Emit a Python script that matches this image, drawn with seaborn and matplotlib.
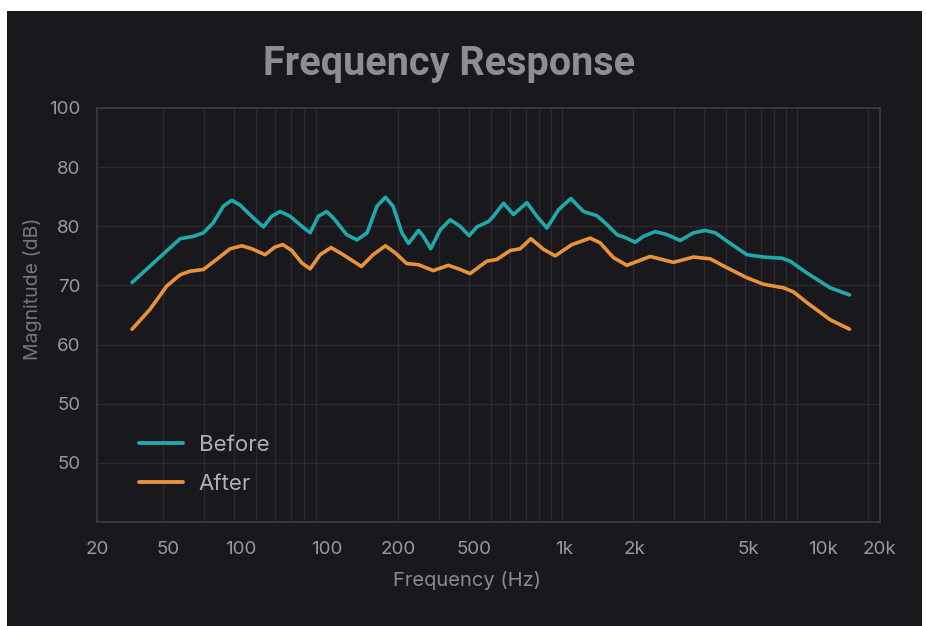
import numpy as np
import pandas as pd
import matplotlib
matplotlib.use("Agg")
import matplotlib.pyplot as plt
import seaborn as sns
from matplotlib.ticker import FixedLocator, LogLocator, NullFormatter
from matplotlib.patches import Rectangle

# ---------------- data ----------------
before_freq = [14.8, 23.7, 27.0, 29.8, 32.8, 36.2, 39.3, 42.6, 48.6, 53.6, 58.2, 63.1, 69.6,
               78.1, 84.7, 91.8, 99.7, 108, 121, 134, 148, 163, 177, 191, 208, 222, 245, 257,
               276, 303, 334, 368, 402, 434, 486, 510, 563, 621, 708, 780, 861, 965, 1089,
               1232, 1405, 1550, 1709, 1854, 2045, 2218, 2487, 2790, 3178, 3621, 4060, 4477,
               5022, 6109, 7190, 8609, 9338, 11000, 13810, 16690]
before_db = [70.5, 77.9, 78.3, 78.9, 80.6, 83.4, 84.4, 83.6, 81.4, 79.9, 81.7, 82.5, 81.7,
             80.0, 78.9, 81.7, 82.5, 81.1, 78.6, 77.7, 78.9, 83.4, 84.9, 83.4, 78.9, 77.1, 79.3,
             78.3, 76.2, 79.4, 81.1, 80.0, 78.4, 79.9, 80.8, 81.7, 83.9, 82.0, 84.0, 81.7, 79.7,
             82.8, 84.7, 82.5, 81.8, 80.3, 78.6, 78.1, 77.3, 78.3, 79.1, 78.6, 77.6, 78.9, 79.3,
             78.9, 77.5, 75.2, 74.8, 74.6, 74.1, 72.1, 69.6, 68.4]

after_freq = [14.8, 17.6, 20.8, 23.7, 26.1, 29.8, 33.9, 38.7, 43.4, 47.8, 54.5, 60.1, 64.8,
              70.8, 78.1, 84.7, 93.4, 104, 117, 140, 157, 177, 195, 218, 245, 283, 328, 368,
              406, 478, 528, 601, 663, 736, 833, 934, 1100, 1316, 1451, 1653, 1885, 2369, 2976,
              3621, 4264, 5022, 6109, 7190, 8745, 9645, 11000, 13810, 16690]
after_db = [62.6, 65.9, 69.9, 71.8, 72.4, 72.7, 74.4, 76.2, 76.7, 76.2, 75.2, 76.5, 76.9,
            75.9, 73.8, 72.8, 75.2, 76.4, 75.2, 73.2, 75.2, 76.7, 75.5, 73.7, 73.5, 72.5, 73.4,
            72.7, 72.0, 74.1, 74.4, 75.9, 76.2, 77.9, 76.1, 75.0, 76.9, 78.0, 77.2, 74.7, 73.4,
            74.9, 73.9, 74.8, 74.5, 73.0, 71.3, 70.2, 69.6, 68.9, 67.1, 64.2, 62.6]

series_names = ["Before", "After"]
y_tick_values = [100, 90, 80, 70, 60, 50, 40]
y_tick_labels = ["100", "80", "80", "70", "60", "50", "50"]
x_tick_labels = ["20", "50", "100", "100", "200", "500", "1k", "2k", "5k", "10k", "20k"]

# ---------------- layout / style ----------------
x_tick_positions = [10.5, 21.05, 43.05, 100, 200.6, 422, 1020, 2025, 6187, 12900, 22340]

BG = "#19181d"
TEAL = "#1fa9a9"
ORANGE = "#e8923c"

df = pd.concat([
    pd.DataFrame({"Frequency": before_freq, "Magnitude": before_db, "Series": series_names[0]}),
    pd.DataFrame({"Frequency": after_freq, "Magnitude": after_db, "Series": series_names[1]}),
], ignore_index=True)

sns.set_theme(style="dark")
plt.rcParams["font.family"] = ["Inter", "DejaVu Sans"]

fig = plt.figure(figsize=(9.26, 6.26), dpi=100, facecolor="white")
fig.patches.append(Rectangle((7 / 926, 0), 915 / 926, 1 - 11 / 626,
                             transform=fig.transFigure, facecolor=BG, edgecolor="none", zorder=-10))
ax = fig.add_axes([97 / 926, 1 - 522 / 626, (880 - 97) / 926, (522 - 108) / 626])
ax.set_facecolor(BG)

sns.lineplot(data=df, x="Frequency", y="Magnitude", hue="Series",
             palette={"Before": TEAL, "After": ORANGE}, linewidth=2.6,
             sort=True, estimator=None, ax=ax)
for ln in ax.get_lines():
    ln.set_solid_joinstyle("round")
    ln.set_solid_capstyle("round")

ax.set_xscale("log")
ax.set_xlim(10.5, 22500)
ax.set_ylim(30, 100)

ax.xaxis.set_major_locator(FixedLocator(x_tick_positions))
ax.set_xticklabels(x_tick_labels)
ax.xaxis.set_minor_locator(LogLocator(base=10, subs=np.arange(1, 10)))
ax.xaxis.set_minor_formatter(NullFormatter())
ax.set_yticks(y_tick_values)
ax.set_yticklabels(y_tick_labels)

ax.grid(False)
ax.grid(True, which="minor", axis="x", color="#2b2a30", linewidth=1)
ax.grid(True, which="major", axis="y", color="#2b2a30", linewidth=1)
ax.tick_params(which="both", length=0)
ax.tick_params(axis="x", pad=14, labelsize=13.5, labelcolor="#9a9a9c")
ax.tick_params(axis="y", pad=12, labelsize=13.5, labelcolor="#9a9a9c")

for s in ax.spines.values():
    s.set_visible(True)
    s.set_color("#3e3d43")
    s.set_linewidth(1.2)

ax.set_xlabel("Frequency (Hz)", fontsize=14.5, color="#8a8a8c")
ax.xaxis.set_label_coords((467 - 97) / (880 - 97), -(581 - 522) / (522 - 108), transform=ax.transAxes)
ax.xaxis.label.set_va("center")
ax.set_ylabel("Magnitude (dB)", fontsize=14, color="#77777a")
ax.yaxis.set_label_coords(-(97 - 32) / (880 - 97), (522 - 289) / (522 - 108), transform=ax.transAxes)
ax.yaxis.label.set_va("center")

leg = ax.legend(loc="upper left", bbox_to_anchor=(0.028, 0.258), frameon=False,
                fontsize=16, handlelength=2.0, handletextpad=0.7, labelspacing=0.85)
for t in leg.get_texts():
    t.set_color("#b0b0b2")
for h in leg.get_lines():
    h.set_linewidth(2.8)

fig.text(449 / 926, 1 - 64 / 626, "Frequency Response", ha="center", va="center",
         fontsize=28.5, fontweight="bold", color="#8e8e90", family=["Roboto", "DejaVu Sans"])

fig.savefig("out.png", dpi=100, facecolor="white")
